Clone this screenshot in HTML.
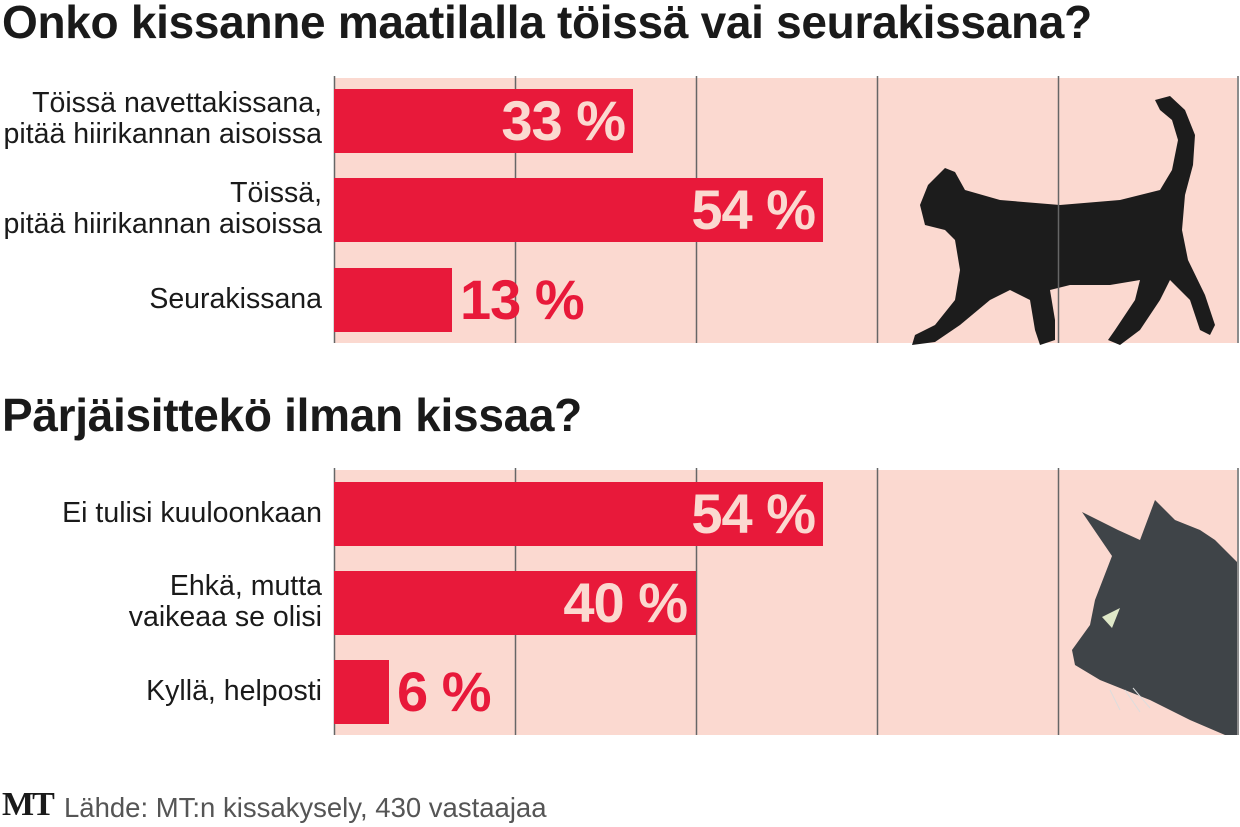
<!DOCTYPE html>
<html><head><meta charset="utf-8"><style>
body{margin:0;width:1240px;height:827px;background:#fff;position:relative;overflow:hidden;font-family:"Liberation Sans",sans-serif}
.t{position:absolute;left:2px;font-weight:bold;font-size:46px;line-height:52px;color:#1a1a1a;white-space:nowrap;letter-spacing:-0.3px}
.bg{position:absolute;left:334px;width:903px;background:#fbd9d0}
.bar{position:absolute;left:334px;background:#e8193a;height:64px}
.pv{position:absolute;font-weight:bold;font-size:56px;line-height:64px;height:64px;white-space:nowrap;letter-spacing:-1px}
.lb{position:absolute;right:918px;text-align:right;font-size:28.5px;line-height:31px;color:#1a1a1a;white-space:nowrap}
</style></head><body>
<div class="t" style="top:-4px">Onko kissanne maatilalla töissä vai seurakissana?</div>
<div class="t" style="top:389px">Pärjäisittekö ilman kissaa?</div>

<div class="bg" style="top:78px;height:265px"></div>
<div class="bg" style="top:470px;height:265px"></div>

<svg style="position:absolute;left:0;top:0" width="1240" height="827">
<g fill="#1c1c1c">
<path d="M920,205 L928,185 L945,168 L955,172 L965,190 L1000,200 L1060,205 L1120,200 L1160,190 L1172,170 L1178,140 L1172,120 L1160,110 L1155,100 L1170,96 L1185,110 L1195,135 L1193,165 L1185,195 L1182,230 L1188,260 L1205,295 L1215,325 L1210,335 L1200,330 L1190,300 L1170,280 L1160,300 L1140,330 L1120,345 L1108,340 L1115,330 L1135,300 L1140,280 L1110,285 L1070,285 L1050,290 L1055,320 L1055,340 L1040,345 L1035,330 L1030,300 L1010,290 L990,300 L960,325 L935,342 L912,345 L915,335 L935,325 L955,300 L960,270 L955,240 L945,230 L925,225 Z"/>
</g>
<g fill="#3f4448">
<path d="M1237,562 L1215,540 L1200,530 L1175,520 L1155,500 L1140,540 L1118,530 L1082,512 L1112,556 L1095,600 L1090,625 L1072,650 L1075,665 L1100,680 L1150,700 L1190,720 L1225,735 L1237,735 Z"/>
</g>
<path d="M1102,617 L1120,608 L1112,628 Z" fill="#dfe8c8"/>
<g stroke="#ddd" stroke-width="1"><line x1="1125" y1="690" x2="1140" y2="712"/><line x1="1133" y1="688" x2="1150" y2="708"/><line x1="1110" y1="690" x2="1120" y2="710"/></g>
<g stroke="#666" stroke-width="1.5">
<line x1="334.5" y1="76" x2="334.5" y2="343"/><line x1="515.5" y1="76" x2="515.5" y2="343"/><line x1="696.5" y1="76" x2="696.5" y2="343"/><line x1="877.5" y1="76" x2="877.5" y2="343"/><line x1="1058.5" y1="76" x2="1058.5" y2="343"/><line x1="1238" y1="76" x2="1238" y2="343"/>
<line x1="334.5" y1="468" x2="334.5" y2="735"/><line x1="515.5" y1="468" x2="515.5" y2="735"/><line x1="696.5" y1="468" x2="696.5" y2="735"/><line x1="877.5" y1="468" x2="877.5" y2="735"/><line x1="1058.5" y1="468" x2="1058.5" y2="735"/><line x1="1238" y1="468" x2="1238" y2="735"/>
</g>
</svg>

<div class="bar" style="top:89px;width:299px"></div>
<div class="bar" style="top:178px;width:489px"></div>
<div class="bar" style="top:268px;width:118px"></div>
<div class="bar" style="top:482px;width:489px"></div>
<div class="bar" style="top:571px;width:362px"></div>
<div class="bar" style="top:660px;width:55px"></div>

<div class="pv" style="top:89px;right:615px;color:#fbd9d0">33 %</div>
<div class="pv" style="top:178px;right:425px;color:#fbd9d0">54 %</div>
<div class="pv" style="top:268px;left:460px;color:#e8193a">13 %</div>
<div class="pv" style="top:482px;right:425px;color:#fbd9d0">54 %</div>
<div class="pv" style="top:571px;right:553px;color:#fbd9d0">40 %</div>
<div class="pv" style="top:660px;left:397px;color:#e8193a">6 %</div>

<div class="lb" style="top:88px">Töissä navettakissana,<br>pitää hiirikannan aisoissa</div>
<div class="lb" style="top:178px">Töissä,<br>pitää hiirikannan aisoissa</div>
<div class="lb" style="top:284px">Seurakissana</div>
<div class="lb" style="top:498px">Ei tulisi kuuloonkaan</div>
<div class="lb" style="top:571px">Ehkä, mutta<br>vaikeaa se olisi</div>
<div class="lb" style="top:676px">Kyllä, helposti</div>

<div style="position:absolute;left:2px;top:786px;font-family:'Liberation Serif',serif;font-weight:bold;font-size:34px;color:#1a1a1a;letter-spacing:-2px">MT</div>
<div style="position:absolute;left:64px;top:792px;font-size:27.5px;color:#555">Lähde: MT:n kissakysely, 430 vastaajaa</div>
</body></html>
